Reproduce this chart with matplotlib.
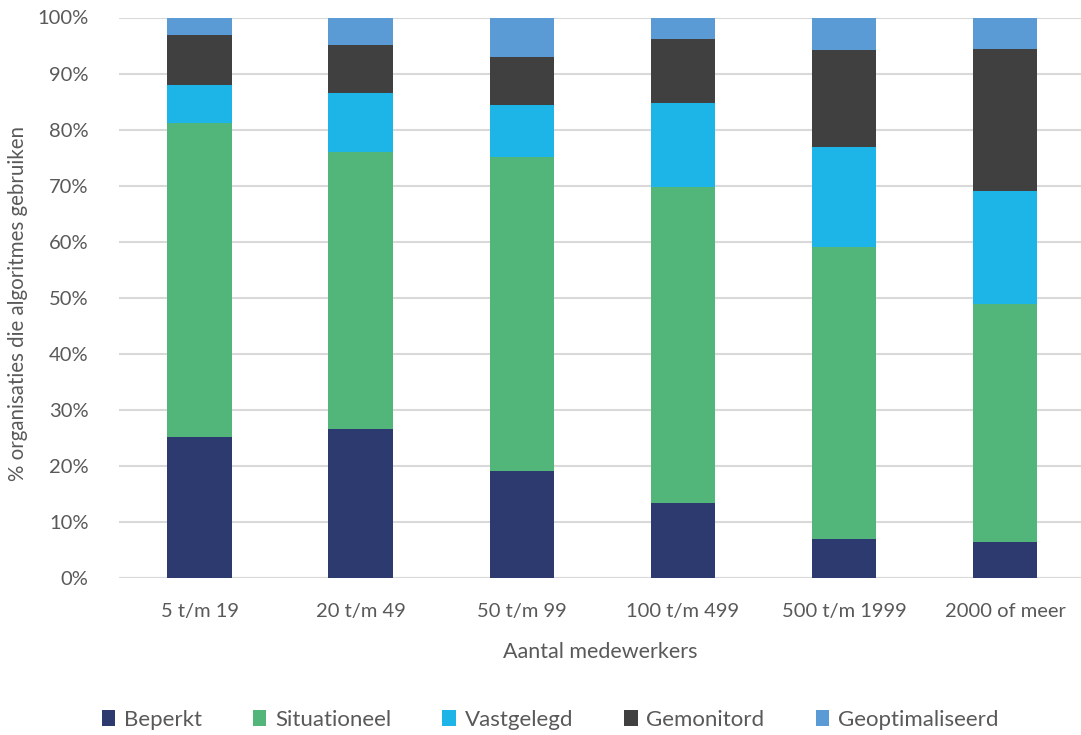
import numpy as np
import matplotlib.pyplot as plt

plt.rcParams['font.family'] = ['Lato', 'DejaVu Sans']

categories = ['5 t/m 19', '20 t/m 49', '50 t/m 99', '100 t/m 499', '500 t/m 1999', '2000 of meer']
beperkt = [25.1, 26.6, 19.1, 13.3, 6.9, 6.5]
situationeel = [56.0, 49.4, 56.1, 56.5, 52.1, 42.4]
vastgelegd = [6.9, 10.6, 9.2, 15.0, 17.9, 20.1]
gemonitord = [8.9, 8.5, 8.6, 11.4, 17.3, 25.4]
geoptimaliseerd = [3.1, 4.9, 7.0, 3.8, 5.8, 5.6]

series = [
    ('Beperkt', beperkt, '#2C3A70'),
    ('Situationeel', situationeel, '#52B67A'),
    ('Vastgelegd', vastgelegd, '#1DB5E8'),
    ('Gemonitord', gemonitord, '#404040'),
    ('Geoptimaliseerd', geoptimaliseerd, '#5A9BD5'),
]

grey = '#595959'

fig = plt.figure(figsize=(10.81, 7.35), dpi=100)
ax = fig.add_axes([119 / 1081, 1 - 578 / 735, (1081 - 119) / 1081, (578 - 17.5) / 735])

x = np.arange(len(categories))
bottom = np.zeros(len(categories))
for name, vals, col in series:
    ax.bar(x, vals, 0.4, bottom=bottom, color=col, label=name, zorder=3)
    bottom += np.array(vals)

ax.set_xlim(-0.5, 5.47)
ax.set_ylim(0, 100)
ax.set_yticks(np.arange(0, 101, 10))
ax.set_yticklabels([f'{v}%' for v in range(0, 101, 10)])
ax.set_xticks(x)
ax.set_xticklabels(categories)
ax.yaxis.grid(True, color='#d9d9d9', linewidth=1.5, zorder=0)
ax.axhline(0, color='#d9d9d9', linewidth=1.5, zorder=1)
for s in ax.spines.values():
    s.set_visible(False)
ax.tick_params(axis='both', length=0, labelsize=14.5, colors=grey)
ax.tick_params(axis='x', pad=18)
ax.tick_params(axis='y', pad=22)

ax.set_xlabel('Aantal medewerkers', fontsize=15.5, color=grey, labelpad=16)
ax.set_ylabel('% organisaties die algoritmes gebruiken', fontsize=14.8, color=grey)
ax.yaxis.set_label_coords(-91 / 962, 0.49)

leg = fig.legend(loc='center', bbox_to_anchor=(550 / 1081, 1 - 720 / 735), ncol=5,
                 frameon=False, fontsize=16, handlelength=0.6, handleheight=0.7,
                 columnspacing=2.3, handletextpad=0.4)
for t in leg.get_texts():
    t.set_color(grey)

fig.savefig('out.png', dpi=100)
